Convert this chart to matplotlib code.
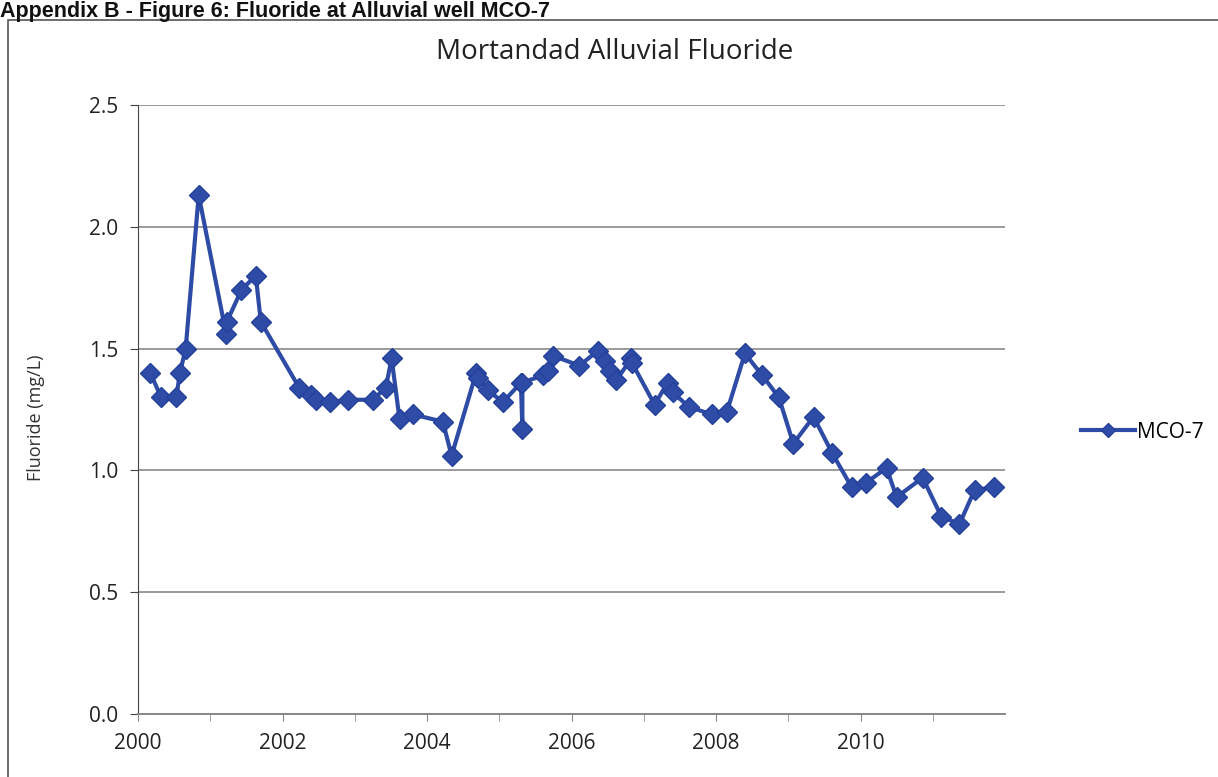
import numpy as np
import matplotlib.pyplot as plt
from matplotlib.patches import Rectangle

# ===================== Dados =====================

# data decimal (ano) e fluoreto (mg/L)
anos = [2000.17, 2000.32, 2000.53, 2000.58, 2000.66, 2000.84, 2001.22, 2001.23,
        2001.43, 2001.63, 2001.70, 2002.23, 2002.39, 2002.46, 2002.66, 2002.90,
        2003.25, 2003.43, 2003.51, 2003.62, 2003.80, 2004.22, 2004.34, 2004.68,
        2004.70, 2004.84, 2005.05, 2005.30, 2005.32, 2005.32, 2005.60, 2005.68,
        2005.75, 2006.11, 2006.36, 2006.46, 2006.53, 2006.62, 2006.83, 2006.84,
        2007.15, 2007.33, 2007.40, 2007.63, 2007.94, 2008.15, 2008.40, 2008.64,
        2008.87, 2009.07, 2009.35, 2009.61, 2009.88, 2010.08, 2010.36, 2010.50,
        2010.86, 2011.12, 2011.37, 2011.58, 2011.85]
fluoreto = [1.40, 1.30, 1.30, 1.40, 1.50, 2.13, 1.56, 1.61,
            1.74, 1.80, 1.61, 1.34, 1.31, 1.29, 1.28, 1.29,
            1.29, 1.34, 1.46, 1.21, 1.23, 1.20, 1.06, 1.40,
            1.38, 1.33, 1.28, 1.36, 1.17, 1.36, 1.39, 1.41,
            1.47, 1.43, 1.49, 1.45, 1.41, 1.37, 1.46, 1.44,
            1.27, 1.36, 1.32, 1.26, 1.23, 1.24, 1.48, 1.39,
            1.30, 1.11, 1.22, 1.07, 0.93, 0.95, 1.01, 0.89,
            0.97, 0.81, 0.78, 0.92, 0.93]

rotulos_x = ['2000', '2002', '2004', '2006', '2008', '2010']
rotulos_y = ['0.0', '0.5', '1.0', '1.5', '2.0', '2.5']

azul = '#2E4CA6'
fonte = ['Open Sans', 'DejaVu Sans']

# ===================== Figura =====================

fig = plt.figure(figsize=(12.18, 7.77), dpi=100)
W, H = 1218, 777

# moldura externa
fig.patches.append(Rectangle((8 / W, -0.05), 1.2, 1 - 20 / H + 0.05,
                             transform=fig.transFigure, fill=False,
                             edgecolor='#555555', linewidth=1.2))

# cabecalho
fig.text(0.0, 1 - 1 / H, 'Appendix B - Figure 6: Fluoride at Alluvial well MCO-7',
         fontsize=15.5, fontweight='bold', family='Liberation Sans',
         ha='left', va='top', color='#111111')

ax = fig.add_axes([138 / W, 1 - 714 / H, (1005 - 138) / W, (714 - 105) / H])

ax.plot(anos, fluoreto, color=azul, linewidth=3, marker='D', markersize=10,
        markerfacecolor=azul, markeredgecolor='#24409A', label='MCO-7')

ax.set_xlim(2000, 2012)
ax.set_ylim(0, 2.5)
ax.set_yticks(np.arange(0, 2.51, 0.5))
ax.set_yticklabels(rotulos_y)
ax.set_xticks(np.arange(2000, 2012, 2))
ax.set_xticklabels(rotulos_x)
ax.set_xticks(np.arange(2001, 2012, 2), minor=True)

for s in ['top', 'right']:
    ax.spines[s].set_visible(False)
ax.spines['left'].set_color('#444444')
ax.spines['bottom'].set_color('#888888')
ax.spines['bottom'].set_linewidth(1.4)

ax.grid(axis='y', color='#8A8A8A', linewidth=1.2)
ax.set_axisbelow(True)
ax.tick_params(axis='y', length=6, color='#444444', labelsize=15, pad=8)
ax.tick_params(axis='x', which='both', length=5, color='#888888', labelsize=15, pad=9)
for lbl in ax.get_xticklabels() + ax.get_yticklabels():
    lbl.set_family(fonte)
    lbl.set_color('#222222')

fig.text(36 / W, 1 - 418 / H, 'Fluoride (mg/L)', fontsize=13, family=fonte,
         color='#333333', rotation=90, ha='center', va='center')
fig.text(615 / W, 1 - 52 / H, 'Mortandad Alluvial Fluoride', fontsize=20,
         family=fonte, ha='center', va='center', color='#222222')

fig.legend(loc='center left', bbox_to_anchor=(1062 / W, 1 - 432 / H), frameon=False,
           prop={'family': fonte, 'size': 15}, handlelength=2.6, handletextpad=0.1,
           markerscale=0.7)

plt.savefig('out.png', dpi=100)
plt.close()
